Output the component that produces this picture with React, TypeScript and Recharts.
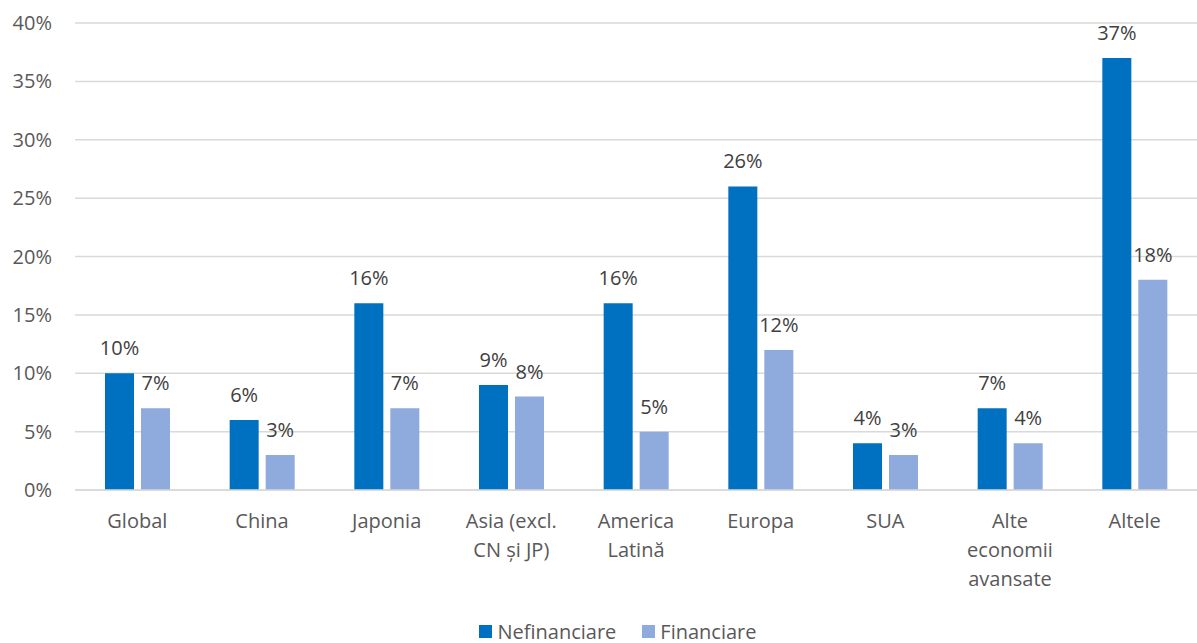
import React from 'react';
import { BarChart, Bar, XAxis, YAxis, CartesianGrid, LabelList } from 'recharts';

const regions = ['Global', 'China', 'Japonia', 'Asia (excl.\nCN și JP)', 'America\nLatină', 'Europa', 'SUA', 'Alte\neconomii\navansate', 'Altele'];
const nefinanciare = [10, 6, 16, 9, 16, 26, 4, 7, 37];
const financiare = [7, 3, 7, 8, 5, 12, 3, 4, 18];
const yTicks = [0, 5, 10, 15, 20, 25, 30, 35, 40];

const DARK = '#0070C0';
const LIGHT = '#8FAADC';
const TEXT = '#595959';
const FONT = '"Open Sans", "Noto Sans", sans-serif';
const FS = 20;

const data = regions.map((name, i) => ({
  name,
  nef: nefinanciare[i],
  fin: financiare[i],
}));

const CategoryTick = ({ x, y, payload }: any) => {
  const lines = String(payload.value).split('\n');
  return (
    <text x={x} y={y} textAnchor="middle" fill={TEXT} fontSize={FS} fontFamily={FONT}>
      {lines.map((line: string, i: number) => (
        <tspan key={i} x={x} dy={i === 0 ? 30 : 29}>{line}</tspan>
      ))}
    </text>
  );
};

const App: React.FC = () => {
  return (
    <div style={{ position: 'absolute', left: 0, top: 0, width: 1197, height: 643, background: '#fff', fontFamily: FONT }}>
      <BarChart
        width={1197}
        height={600}
        data={data}
        margin={{ top: 23, right: 0, left: 0, bottom: 0 }}
        barGap={7}
        barSize={29}
      >
        <CartesianGrid vertical={false} stroke="#d9d9d9" strokeWidth={1.5} />
        <XAxis
          dataKey="name"
          interval={0}
          axisLine={{ stroke: '#d9d9d9', strokeWidth: 1.5 }}
          tickLine={false}
          tick={<CategoryTick />}
          height={110}
        />
        <YAxis
          domain={[0, 40]}
          ticks={yTicks}
          width={75}
          axisLine={false}
          tickLine={false}
          tickSize={0}
          tickMargin={23}
          tickFormatter={(v: number) => `${v}%`}
          tick={{ fill: TEXT, fontSize: FS, fontFamily: FONT }}
        />
        <Bar dataKey="nef" fill={DARK} isAnimationActive={false}>
          <LabelList dataKey="nef" position="top" offset={18} formatter={(v: any) => `${v}%`} fill="#404040" fontSize={FS} fontFamily={FONT} />
        </Bar>
        <Bar dataKey="fin" fill={LIGHT} isAnimationActive={false}>
          <LabelList dataKey="fin" position="top" offset={18} formatter={(v: any) => `${v}%`} fill="#404040" fontSize={FS} fontFamily={FONT} />
        </Bar>
      </BarChart>
      <div style={{ position: 'absolute', top: 618, left: 0, width: 1236, display: 'flex', justifyContent: 'center', gap: 26, fontSize: FS, color: TEXT }}>
        <div style={{ display: 'flex', alignItems: 'center', gap: 5 }}>
          <div style={{ width: 13, height: 13, background: DARK }} />
          <span>Nefinanciare</span>
        </div>
        <div style={{ display: 'flex', alignItems: 'center', gap: 5 }}>
          <div style={{ width: 13, height: 13, background: LIGHT }} />
          <span>Financiare</span>
        </div>
      </div>
    </div>
  );
};

export default App;
